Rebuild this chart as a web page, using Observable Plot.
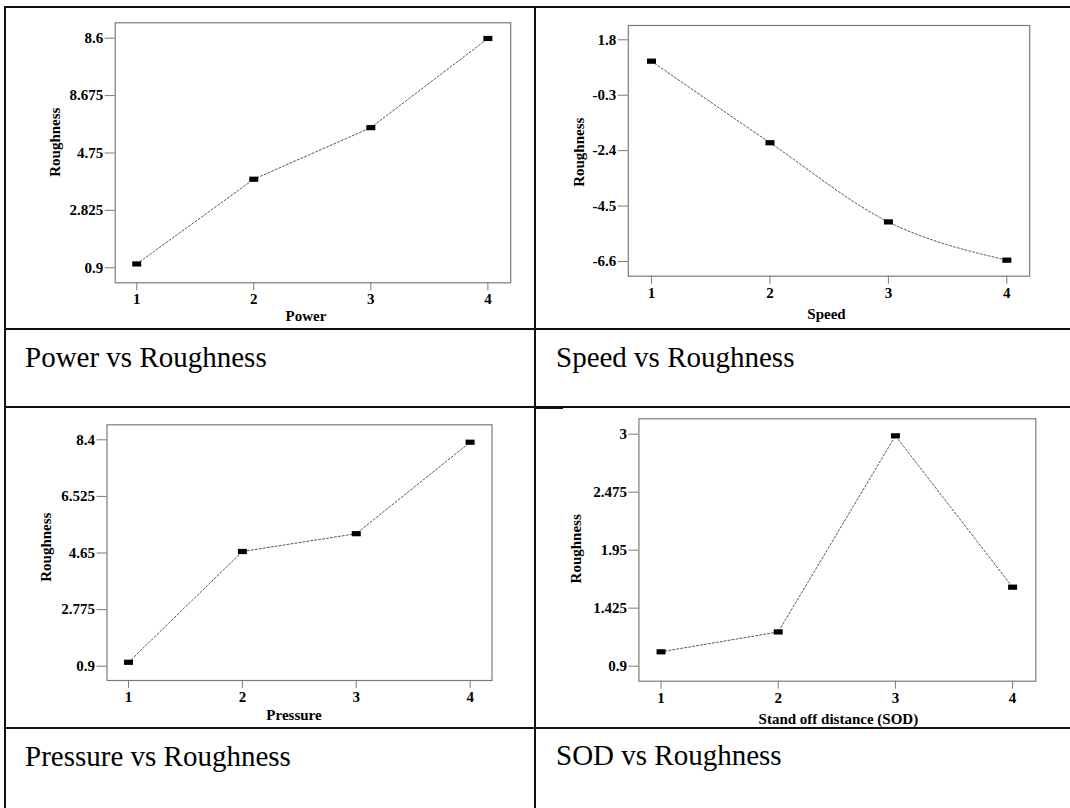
<!DOCTYPE html>
<html>
<head>
<meta charset="utf-8">
<script src="https://cdn.jsdelivr.net/npm/d3@7"></script>
<script src="https://cdn.jsdelivr.net/npm/@observablehq/plot@0.6"></script>
<style>
  html, body { margin: 0; padding: 0; background: #fff; }
  #page { position: relative; width: 1070px; height: 808px; overflow: hidden; background: #fff; }
  .hl { position: absolute; height: 2px; background: #111; }
  .vl { position: absolute; width: 2px; background: #111; }
  .cap { position: absolute; font-family: 'Liberation Serif', 'Times New Roman', serif; font-size: 29px; line-height: 29px; color: #000; white-space: nowrap; }
  .panel { position: absolute; }
  .panel svg text { font-family: 'Liberation Serif', 'Times New Roman', serif; font-weight: bold; }
</style>
</head>
<body>
<div id="page"></div>
<script>
// ---- data ----
const levels = [1, 2, 3, 4];

const powerRoughness = [1.03, 3.87, 5.60, 8.59];
const speedRoughness = [0.99, -2.10, -5.10, -6.55];
const pressureRoughness = [1.03, 4.70, 5.29, 8.32];
const sodRoughness = [1.03, 1.21, 2.985, 1.615];

const powerTicks = [0.9, 2.825, 4.75, 6.675, 8.6];
const powerTickLabels = ["0.9", "2.825", "4.75", "8.675", "8.6"];
const speedTicks = [-6.6, -4.5, -2.4, -0.3, 1.8];
const speedTickLabels = ["-6.6", "-4.5", "-2.4", "-0.3", "1.8"];
const pressureTicks = [0.9, 2.775, 4.65, 6.525, 8.4];
const pressureTickLabels = ["0.9", "2.775", "4.65", "6.525", "8.4"];
const sodTicks = [0.9, 1.425, 1.95, 2.475, 3];
const sodTickLabels = ["0.9", "1.425", "1.95", "2.475", "3"];

const xTickLabels = ["1", "2", "3", "4"];

const xLabels = ["Power", "Speed", "Pressure", "Stand off distance (SOD)"];
const yLabel = "Roughness";
const captions = ["Power vs Roughness", "Speed vs Roughness", "Pressure vs Roughness", "SOD vs Roughness"];

// ---- layout ----
const page = document.getElementById("page");

function hline(x, y, w, h) { const d = document.createElement("div"); d.className = "hl"; d.style.left = x + "px"; d.style.top = y + "px"; d.style.width = w + "px"; if (h) d.style.height = h + "px"; page.appendChild(d); }
function vline(x, y, h) { const d = document.createElement("div"); d.className = "vl"; d.style.left = x + "px"; d.style.top = y + "px"; d.style.height = h + "px"; page.appendChild(d); }

hline(4, 6, 1066);
hline(4, 328, 1066);
hline(4, 406, 1066);
hline(535, 406, 28, 3);
hline(4, 727, 1066);
vline(4, 6, 802);
vline(534, 6, 802);

const rectSymbol = {
  draw(ctx) {
    ctx.moveTo(-4.5, -2.6); ctx.lineTo(4.5, -2.6); ctx.lineTo(4.5, 2.6); ctx.lineTo(-4.5, 2.6); ctx.closePath();
  }
};

const FS = 15;
const FONT = "'Liberation Serif', 'Times New Roman', serif";

const panels = [
  {values: powerRoughness, ticks: powerTicks, tickLabels: powerTickLabels, xLabel: xLabels[0], caption: captions[0],
   box: {left: 7, top: 9, w: 527, h: 318}, frame: {L: 114.7, R: 510.2, T: 22.3, B: 282.3},
   xd: [0.816, 4.195], yd: [0.397, 9.116], ylab: [-60, -10.6], xlab: [-7, 33.4], cap: [25, 367], curve: "linear"},
  {values: speedRoughness, ticks: speedTicks, tickLabels: speedTickLabels, xLabel: xLabels[1], caption: captions[1],
   box: {left: 537, top: 9, w: 533, h: 318}, frame: {L: 627.8, R: 1029.2, T: 25, B: 275.7},
   xd: [0.804, 4.193], yd: [-7.157, 2.342], ylab: [-49, 1.4], xlab: [-2.5, 37.6], cap: [556, 367], curve: "monotone-x"},
  {values: pressureRoughness, ticks: pressureTicks, tickLabels: pressureTickLabels, xLabel: xLabels[2], caption: captions[2],
   box: {left: 7, top: 409, w: 527, h: 317}, frame: {L: 106.5, R: 491.5, T: 424.3, B: 680},
   xd: [0.811, 4.192], yd: [0.426, 8.897], ylab: [-60.4, -5.5], xlab: [-5.5, 35], cap: [25, 766.7], curve: "linear"},
  {values: sodRoughness, ticks: sodTicks, tickLabels: sodTickLabels, xLabel: xLabels[3], caption: captions[3],
   box: {left: 537, top: 409, w: 533, h: 317}, frame: {L: 638.4, R: 1035.3, T: 418.3, B: 680.7},
   xd: [0.811, 4.198], yd: [0.764, 3.139], ylab: [-62.4, -1.2], xlab: [1, 38.3], cap: [556, 765], curve: "linear"}
];

for (const p of panels) {
  const data = levels.map((l, i) => ({level: l, value: p.values[i]}));
  const b = p.box, f = p.frame;
  const txt = {fontSize: FS, fontFamily: FONT, fontWeight: "bold", fill: "#000"};
  const chart = Plot.plot({
    width: b.w,
    height: b.h,
    marginLeft: f.L - b.left,
    marginRight: b.left + b.w - f.R,
    marginTop: f.T - b.top,
    marginBottom: b.top + b.h - f.B,
    style: {fontFamily: FONT, fontSize: FS + "px", fontWeight: "bold", background: "transparent", overflow: "visible", color: "#000"},
    x: {domain: p.xd},
    y: {domain: p.yd},
    marks: [
      Plot.frame({stroke: "#7a7a7a", strokeWidth: 1.2}),
      Plot.axisY({ticks: p.ticks, tickFormat: d => p.tickLabels[p.ticks.indexOf(d)], tickSize: 10, tickPadding: 2, stroke: "#7a7a7a", label: null, ...txt}),
      Plot.axisX({ticks: levels, tickFormat: d => xTickLabels[levels.indexOf(d)], tickSize: 8, tickPadding: 3, stroke: "#7a7a7a", label: null, ...txt}),
      Plot.line(data, {x: "level", y: "value", stroke: "#555", strokeWidth: 1, strokeDasharray: "2,2", curve: p.curve}),
      Plot.dot(data, {x: "level", y: "value", symbol: rectSymbol, fill: "#000", stroke: "none"}),
      Plot.text([yLabel], {text: d => d, frameAnchor: "left", rotate: -90, dx: p.ylab[0], dy: p.ylab[1], lineAnchor: "middle", textAnchor: "middle", ...txt}),
      Plot.text([p.xLabel], {text: d => d, frameAnchor: "bottom", dx: p.xlab[0], dy: p.xlab[1], lineAnchor: "middle", textAnchor: "middle", ...txt})
    ]
  });
  const holder = document.createElement("div");
  holder.className = "panel";
  holder.style.left = b.left + "px";
  holder.style.top = b.top + "px";
  holder.appendChild(chart);
  page.appendChild(holder);

  const cap = document.createElement("div");
  cap.className = "cap";
  cap.style.left = p.cap[0] + "px";
  cap.style.top = (p.cap[1] - 24.3) + "px";
  cap.textContent = p.caption;
  page.appendChild(cap);
}
</script>
</body>
</html>
